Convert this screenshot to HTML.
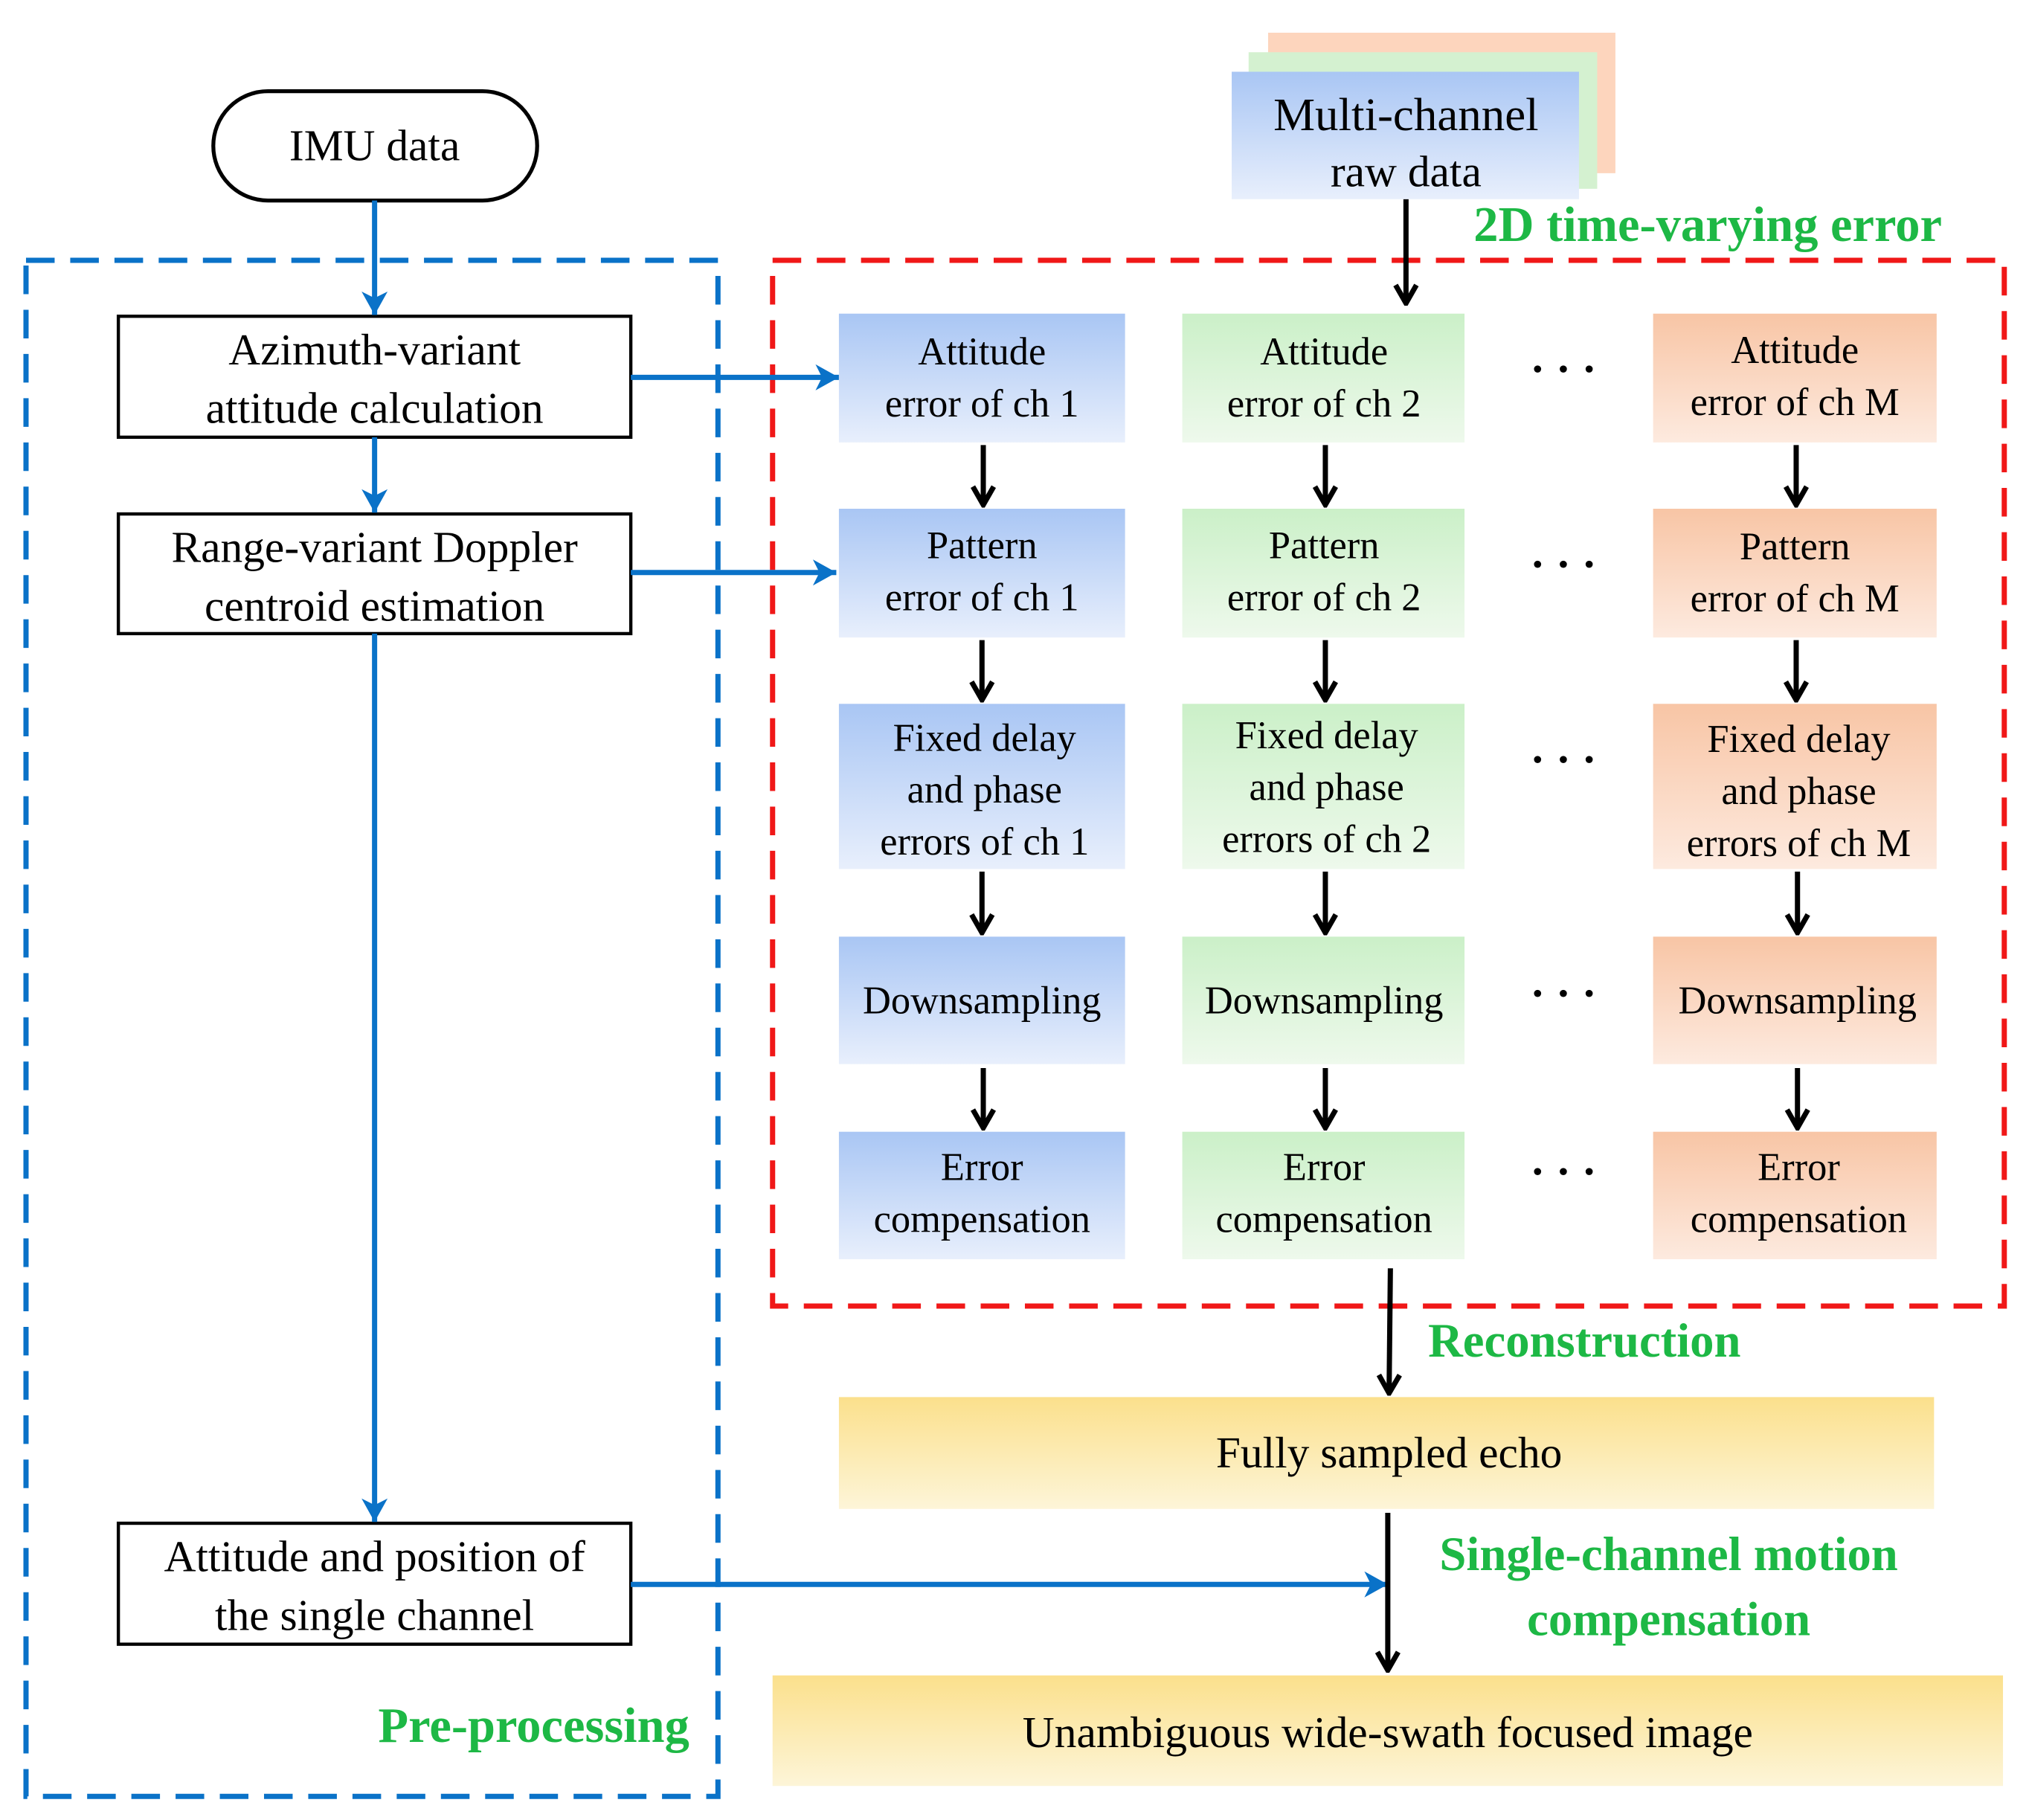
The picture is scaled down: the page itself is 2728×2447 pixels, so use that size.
<!DOCTYPE html>
<html><head><meta charset="utf-8"><style>html,body{margin:0;padding:0;background:#fff}svg{display:block}</style></head><body>
<svg width="2728" height="2447" viewBox="0 0 1560 1399" xmlns="http://www.w3.org/2000/svg" font-family="'Liberation Serif', serif">
<defs>
<linearGradient id="gb" x1="0" y1="0" x2="0" y2="1"><stop offset="0" stop-color="#a9c6f4"/><stop offset="1" stop-color="#e8effc"/></linearGradient>
<linearGradient id="gg" x1="0" y1="0" x2="0" y2="1"><stop offset="0" stop-color="#cbf0c8"/><stop offset="1" stop-color="#eef9ec"/></linearGradient>
<linearGradient id="go" x1="0" y1="0" x2="0" y2="1"><stop offset="0" stop-color="#f8c5a5"/><stop offset="1" stop-color="#fdeadf"/></linearGradient>
<linearGradient id="gy" x1="0" y1="0" x2="0" y2="1"><stop offset="0" stop-color="#fbe08c"/><stop offset="1" stop-color="#fdf5d8"/></linearGradient>
<marker id="ab" markerWidth="24" markerHeight="24" refX="22" refY="12" orient="auto" markerUnits="userSpaceOnUse"><path d="M4,2 L22,12 L4,22 L9,12 Z" fill="#0a72c8"/></marker>
<marker id="ak" markerWidth="20" markerHeight="20" refX="18" refY="10" orient="auto" markerUnits="userSpaceOnUse"><path d="M4,2 L18,10 L4,18" fill="none" stroke="#000" stroke-width="4"/></marker>
</defs>
<g fill="none" stroke-width="4" stroke-dasharray="22,12">
<rect x="20" y="200" width="532" height="1181" stroke="#0a72c8"/>
<rect x="594" y="200" width="947" height="804" stroke="#f01818"/>
</g>
<rect x="164" y="70" width="249" height="84" rx="42" fill="#fff" stroke="#000" stroke-width="3"/>
<text x="288" y="123" font-size="34" text-anchor="middle">IMU data</text>
<g fill="#fff" stroke="#000" stroke-width="2.5">
<rect x="91" y="243" width="394" height="93"/><rect x="91" y="395" width="394" height="92"/><rect x="91" y="1171" width="394" height="93"/>
</g>
<g font-size="34" text-anchor="middle">
<text x="288" y="280">Azimuth-variant</text><text x="288" y="325">attitude calculation</text>
<text x="288" y="432">Range-variant Doppler</text><text x="288" y="477">centroid estimation</text>
<text x="288" y="1208">Attitude and position of</text><text x="288" y="1253">the single channel</text>
</g>
<g stroke="#0a72c8" stroke-width="4" marker-end="url(#ab)">
<line x1="288" y1="154" x2="288" y2="242"/><line x1="288" y1="336" x2="288" y2="394"/><line x1="288" y1="487" x2="288" y2="1170"/>
<line x1="485" y1="290" x2="645" y2="290"/><line x1="485" y1="440" x2="643" y2="440"/><line x1="485" y1="1218" x2="1067" y2="1218"/>
</g>
<rect x="975" y="25" width="267" height="108" fill="#fdd5bd"/>
<rect x="960" y="40" width="268" height="105" fill="#d4f1d0"/>
<rect x="947" y="55" width="267" height="98" fill="url(#gb)"/>
<text x="1081" y="100" font-size="36" text-anchor="middle">Multi-channel</text>
<text x="1081" y="143" font-size="34" text-anchor="middle">raw data</text>
<g fill="#1db845" font-weight="bold">
<text x="1133" y="185" font-size="38">2D time-varying error</text>
<text x="1098" y="1043" font-size="37">Reconstruction</text>
<text x="1283" y="1207" font-size="37" text-anchor="middle">Single-channel motion</text>
<text x="1283" y="1257" font-size="37" text-anchor="middle">compensation</text>
<text x="530" y="1339" font-size="38" text-anchor="end">Pre-processing</text>
</g>
<g>
<rect x="645" y="241" width="220" height="99" fill="url(#gb)"/><rect x="909" y="241" width="217" height="99" fill="url(#gg)"/><rect x="1271" y="241" width="218" height="99" fill="url(#go)"/>
<rect x="645" y="391" width="220" height="99" fill="url(#gb)"/><rect x="909" y="391" width="217" height="99" fill="url(#gg)"/><rect x="1271" y="391" width="218" height="99" fill="url(#go)"/>
<rect x="645" y="541" width="220" height="127" fill="url(#gb)"/><rect x="909" y="541" width="217" height="127" fill="url(#gg)"/><rect x="1271" y="541" width="218" height="127" fill="url(#go)"/>
<rect x="645" y="720" width="220" height="98" fill="url(#gb)"/><rect x="909" y="720" width="217" height="98" fill="url(#gg)"/><rect x="1271" y="720" width="218" height="98" fill="url(#go)"/>
<rect x="645" y="870" width="220" height="98" fill="url(#gb)"/><rect x="909" y="870" width="217" height="98" fill="url(#gg)"/><rect x="1271" y="870" width="218" height="98" fill="url(#go)"/>
</g>
<g font-size="30" text-anchor="middle">
<text x="755" y="280">Attitude</text><text x="755" y="320">error of ch 1</text>
<text x="1018" y="280">Attitude</text><text x="1018" y="320">error of ch 2</text>
<text x="1380" y="279">Attitude</text><text x="1380" y="319">error of ch M</text>
<text x="755" y="429">Pattern</text><text x="755" y="469">error of ch 1</text>
<text x="1018" y="429">Pattern</text><text x="1018" y="469">error of ch 2</text>
<text x="1380" y="430">Pattern</text><text x="1380" y="470">error of ch M</text>
<text x="757" y="577">Fixed delay</text><text x="757" y="617">and phase</text><text x="757" y="657">errors of ch 1</text>
<text x="1020" y="575">Fixed delay</text><text x="1020" y="615">and phase</text><text x="1020" y="655">errors of ch 2</text>
<text x="1383" y="578">Fixed delay</text><text x="1383" y="618">and phase</text><text x="1383" y="658">errors of ch M</text>
<text x="755" y="779">Downsampling</text><text x="1018" y="779">Downsampling</text><text x="1382" y="779">Downsampling</text>
<text x="755" y="907">Error</text><text x="755" y="947">compensation</text>
<text x="1018" y="907">Error</text><text x="1018" y="947">compensation</text>
<text x="1383" y="907">Error</text><text x="1383" y="947">compensation</text>
</g>
<g font-size="34" text-anchor="middle" font-weight="bold">
<text x="1202" y="295">· · ·</text><text x="1202" y="445">· · ·</text><text x="1202" y="595">· · ·</text><text x="1202" y="775">· · ·</text><text x="1202" y="912">· · ·</text>
</g>
<g stroke="#000" stroke-width="4" marker-end="url(#ak)">
<line x1="1081" y1="153" x2="1081" y2="233"/>
<line x1="756" y1="342" x2="756" y2="388"/><line x1="1019" y1="342" x2="1019" y2="388"/><line x1="1381" y1="342" x2="1381" y2="388"/>
<line x1="755" y1="492" x2="755" y2="538"/><line x1="1019" y1="492" x2="1019" y2="538"/><line x1="1381" y1="492" x2="1381" y2="538"/>
<line x1="755" y1="670" x2="755" y2="717"/><line x1="1019" y1="670" x2="1019" y2="717"/><line x1="1382" y1="670" x2="1382" y2="717"/>
<line x1="756" y1="821" x2="756" y2="867"/><line x1="1019" y1="821" x2="1019" y2="867"/><line x1="1382" y1="821" x2="1382" y2="867"/>
<line x1="1069" y1="975" x2="1068" y2="1071"/>
<line x1="1067" y1="1163" x2="1067" y2="1284"/>
</g>
<rect x="645" y="1074" width="842" height="86" fill="url(#gy)"/>
<text x="1068" y="1128" font-size="34" text-anchor="middle">Fully sampled echo</text>
<rect x="594" y="1288" width="946" height="85" fill="url(#gy)"/>
<text x="1067" y="1343" font-size="34" text-anchor="middle">Unambiguous wide-swath focused image</text>
</svg>
</body></html>
